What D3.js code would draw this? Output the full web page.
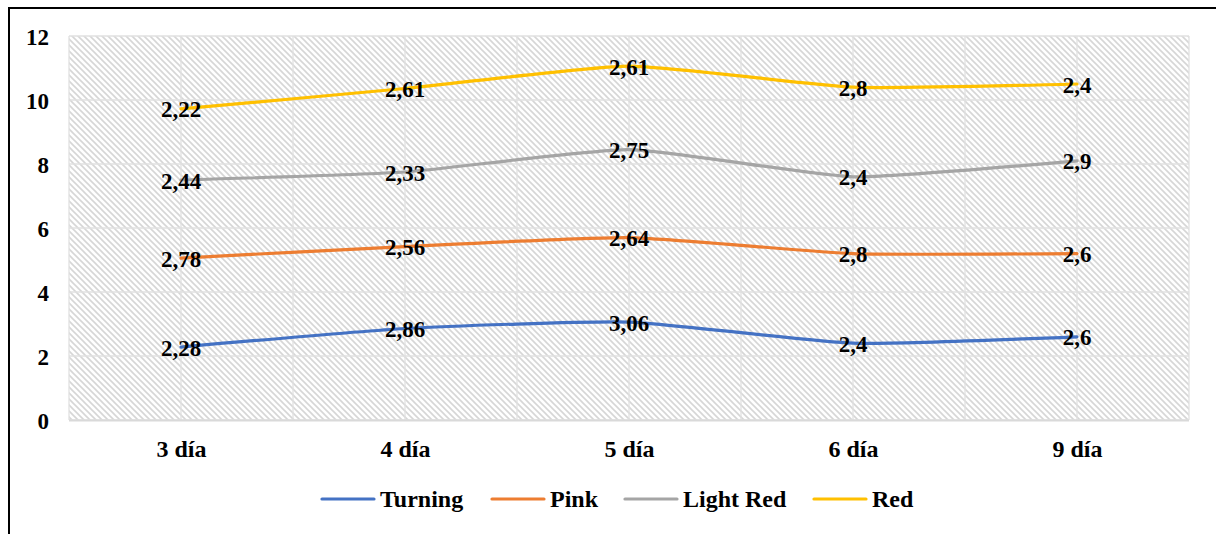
<!DOCTYPE html>
<html>
<head>
<meta charset="utf-8">
<script src="https://cdn.jsdelivr.net/npm/d3@7"></script>
<style>
  body { margin: 0; background: #fff; }
</style>
</head>
<body>
<div id="chart"></div>
<script>
// chart data (stacked lines, labels show each series' own value)
const categories = ["3 día", "4 día", "5 día", "6 día", "9 día"];
const turning = [2.28, 2.86, 3.06, 2.4, 2.6];
const pink = [2.78, 2.56, 2.64, 2.8, 2.6];
const lightRed = [2.44, 2.33, 2.75, 2.4, 2.9];
const red = [2.22, 2.61, 2.61, 2.8, 2.4];
const seriesNames = ["Turning", "Pink", "Light Red", "Red"];
const yTicks = [0, 2, 4, 6, 8, 10, 12];

const colours = ["#4472C4", "#ED7D31", "#A5A5A5", "#FFC000"];
const font = '"Liberation Serif", "Times New Roman", serif';
const width = 1216, height = 534;
const plot = { left: 69, top: 36, right: 1189, bottom: 420 };

const svg = d3.select("#chart").append("svg")
  .attr("width", width)
  .attr("height", height);

// hatched background
const defs = svg.append("defs");
defs.append("pattern")
  .attr("id", "hatch")
  .attr("patternUnits", "userSpaceOnUse")
  .attr("width", 6).attr("height", 6)
  .call(p => {
    p.append("rect").attr("width", 6).attr("height", 6).attr("fill", "#fff");
    p.append("path").attr("d", "M-1,-1 L7,7 M-7,-1 L1,7 M5,-1 L13,7")
      .attr("stroke", "#d6d6d6").attr("stroke-width", 1.6);
  });

// outer frame (left and top edges visible)
svg.append("path")
  .attr("d", `M9,${height} L9,8 L${width},8`)
  .attr("fill", "none").attr("stroke", "#000").attr("stroke-width", 2);

const x = d3.scalePoint()
  .domain(categories)
  .range([plot.left, plot.right])
  .padding(0.5);
const step = x.step();

const y = d3.scaleLinear()
  .domain([0, 12])
  .range([plot.bottom, plot.top]);

svg.append("rect")
  .attr("x", plot.left).attr("y", plot.top)
  .attr("width", plot.right - plot.left)
  .attr("height", plot.bottom - plot.top)
  .attr("fill", "url(#hatch)");

// gridlines
const grid = svg.append("g").attr("stroke", "#e0e0e0").attr("stroke-width", 1.3);
grid.selectAll(".hg").data(yTicks).enter().append("line")
  .attr("x1", plot.left).attr("x2", plot.right)
  .attr("y1", d => y(d)).attr("y2", d => y(d));
const vLines = d3.range(0, categories.length * 2 + 1).map(i => plot.left + i * step / 2);
grid.selectAll(".vg").data(vLines).enter().append("line")
  .attr("x1", d => d).attr("x2", d => d)
  .attr("y1", plot.top).attr("y2", plot.bottom);
svg.append("line")
  .attr("x1", plot.left).attr("x2", plot.right)
  .attr("y1", plot.bottom + 0.5).attr("y2", plot.bottom + 0.5)
  .attr("stroke", "#d9d9d9").attr("stroke-width", 2);

// axes
const yAxis = d3.axisLeft(y).tickValues(yTicks).tickSize(0).tickPadding(20).tickFormat(d3.format("d"));
svg.append("g")
  .attr("transform", `translate(${plot.left},0)`)
  .call(yAxis)
  .call(g => g.select(".domain").remove())
  .selectAll("text")
  .style("font-family", font)
  .style("font-weight", "bold")
  .style("font-size", "23px")
  .attr("fill", "#000")
  .attr("dy", "0.35em");

const xAxis = d3.axisBottom(x).tickSize(0).tickPadding(0);
svg.append("g")
  .attr("transform", `translate(0,${plot.bottom})`)
  .call(xAxis)
  .call(g => g.select(".domain").remove())
  .selectAll("text")
  .style("font-family", font)
  .style("font-weight", "bold")
  .style("font-size", "24px")
  .attr("fill", "#000")
  .attr("y", 37)
  .attr("dy", null);

// stack the series
const raw = [turning, pink, lightRed, red];
const stacked = [];
raw.forEach((vals, si) => {
  stacked.push(vals.map((v, i) => ({
    cat: categories[i],
    value: v,
    top: (si > 0 ? stacked[si - 1][i].top : 0) + v
  })));
});

const line = d3.line()
  .x(d => x(d.cat))
  .y(d => y(d.top))
  .curve(d3.curveCardinal.tension(0.5));

svg.selectAll(".series").data(stacked).enter().append("path")
  .attr("d", line)
  .attr("fill", "none")
  .attr("stroke", (d, i) => colours[i])
  .attr("stroke-width", 3.2)
  .attr("stroke-linecap", "round");

// data labels
stacked.forEach(s => {
  svg.selectAll(null).data(s).enter().append("text")
    .attr("x", d => x(d.cat))
    .attr("y", d => y(d.top) + 8.5)
    .attr("text-anchor", "middle")
    .style("font-family", font)
    .style("font-weight", "bold")
    .style("font-size", "23px")
    .text(d => String(d.value).replace(".", ","));
});

// legend
const legendX = [322, 492, 625, 814];
const legend = svg.selectAll(".legend").data(seriesNames).enter().append("g")
  .attr("transform", (d, i) => `translate(${legendX[i]},499)`);
legend.append("line")
  .attr("x1", 0).attr("x2", 52)
  .attr("stroke", (d, i) => colours[i])
  .attr("stroke-width", 3.2)
  .attr("stroke-linecap", "round");
legend.append("text")
  .attr("x", 58).attr("y", 8)
  .style("font-family", font)
  .style("font-weight", "bold")
  .style("font-size", "24px")
  .text(d => d);
</script>
</body>
</html>
